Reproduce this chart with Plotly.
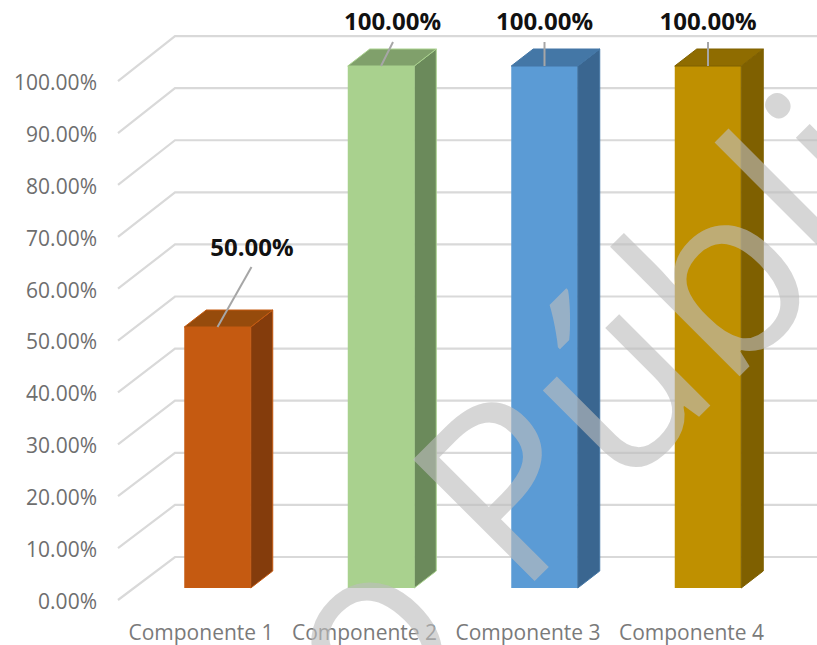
import plotly.graph_objects as go

categories = ["Componente 1", "Componente 2", "Componente 3", "Componente 4"]
values = [50, 100, 100, 100]
y_ticks = [0, 10, 20, 30, 40, 50, 60, 70, 80, 90, 100]
watermark = "o Público"

W, H = 817, 645
PX_X = 163.5          # px per category
PX_Y = 5.22           # px per percent
X0_PX, Y0_PX = 217.5, 588
LEFT, BOTTOM = 98, 27
BAR_W = 66.5 / PX_X
DX, DY = 22 / PX_X, 17 / PX_Y
BACK_X = (175 - X0_PX) / PX_X
FRONT_X = (118 - X0_PX) / PX_X
BACK_Y0 = 31 / PX_Y
FRONT_Y0 = -12 / PX_Y
BACK_K, FRONT_K = 0.998, 0.994
TICK_Y0 = -13.5 / PX_Y
TICK_K = 0.994
CAT_SHIFT = -16.5 / PX_X

front = ["#C55A11", "#A9D18E", "#5B9BD5", "#BF9000"]
side = ["#843C0C", "#6B8A5B", "#3A6690", "#7F6000"]
top = ["#964B0C", "#80A06B", "#4477A6", "#8F6C00"]
edge = ["#C55A11", "#A9D18E", "#4477A6", "#7F6000"]
label_dx = [34.5 / PX_X, 11.5 / PX_X, 0, 0]
label_dy = [14.7, 8.0, 8.0, 8.0]
leader_dy = [11.5, 4.6, 4.6, 4.6]
leader_dx = [34 / PX_X, 12 / PX_X, 0, 0]

x_right = (W - X0_PX) / PX_X
x_left = (LEFT - X0_PX) / PX_X
y_top = Y0_PX / PX_Y
y_bottom = (Y0_PX - (H - BOTTOM)) / PX_Y

fig = go.Figure()

# walls and floor grid, beneath every trace
shapes = []
for t in y_ticks:
    ya = FRONT_Y0 + FRONT_K * t
    yb = BACK_Y0 + BACK_K * t
    shapes.append(dict(type="path", xref="x", yref="y", layer="below",
                       path=f"M {FRONT_X} {ya} L {BACK_X} {yb} L {x_right + 0.1} {yb}",
                       line=dict(color="#D9D9D9", width=2.2)))

# front faces
xs = list(range(len(categories)))
fig.add_trace(go.Bar(x=xs, y=values, width=BAR_W, marker=dict(color=front, line=dict(width=0)),
                     showlegend=False, hoverinfo="skip"))

# side and top faces
for i, v in enumerate(values):
    r = i + BAR_W / 2
    l = i - BAR_W / 2
    fig.add_trace(go.Scatter(x=[r, r + DX, r + DX, r, r], y=[0, DY, v + DY, v, 0],
                             mode="lines", fill="toself", fillcolor=side[i],
                             line=dict(color=edge[i], width=1), hoverinfo="skip", showlegend=False))
    fig.add_trace(go.Scatter(x=[l, l + DX, r + DX, r, l], y=[v, v + DY, v + DY, v, v],
                             mode="lines", fill="toself", fillcolor=top[i],
                             line=dict(color=edge[i], width=1), hoverinfo="skip", showlegend=False))
    fig.add_trace(go.Scatter(x=[i, i + leader_dx[i]], y=[v, v + leader_dy[i]], mode="lines",
                             line=dict(color="#A6A6A6", width=2), hoverinfo="skip", showlegend=False))

# data labels
fig.add_trace(go.Scatter(
    x=[i + d for i, d in zip(xs, label_dx)],
    y=[v + d for v, d in zip(values, label_dy)],
    text=[f"{v:.2f}%" for v in values], mode="text", textposition="middle center",
    textfont=dict(family="Open Sans", size=24, color="#111111", weight="bold"),
    hoverinfo="skip", showlegend=False, cliponaxis=False))

fig.update_layout(
    width=W, height=H, autosize=False,
    margin=dict(l=LEFT, r=0, t=0, b=BOTTOM, pad=0),
    paper_bgcolor="white", plot_bgcolor="rgba(0,0,0,0)",
    font=dict(family="Open Sans", color="#595959"),
    shapes=shapes,
    xaxis=dict(range=[x_left, x_right], showgrid=False, zeroline=False, showline=False,
               tickmode="array", tickvals=[i + CAT_SHIFT for i in xs], ticktext=categories,
               ticks="", ticklen=0, tickangle=0, tickfont=dict(size=21, color="#7A7A7A", family="Open Sans")),
    yaxis=dict(range=[y_bottom, y_top], showgrid=False, zeroline=False, showline=False,
               tickmode="array", tickvals=[TICK_Y0 + TICK_K * t for t in y_ticks],
               ticktext=[f"{t:.2f}%" for t in y_ticks], ticks="", ticklen=0,
               tickfont=dict(size=21, color="#6E6E6E", family="Open Sans")),
    annotations=[dict(
        text=watermark, xref="paper", yref="paper",
        x=(669 - LEFT) / (W - LEFT), y=(H - BOTTOM - 314) / (H - BOTTOM),
        xanchor="center", yanchor="middle", textangle=-45, showarrow=False,
        font=dict(family="Open Sans", size=241, color="rgba(189,189,189,0.62)"))],
)

fig.write_html("out.html", config=dict(displayModeBar=False),
               post_script="document.body.style.margin='0';document.documentElement.style.overflow='hidden';")
